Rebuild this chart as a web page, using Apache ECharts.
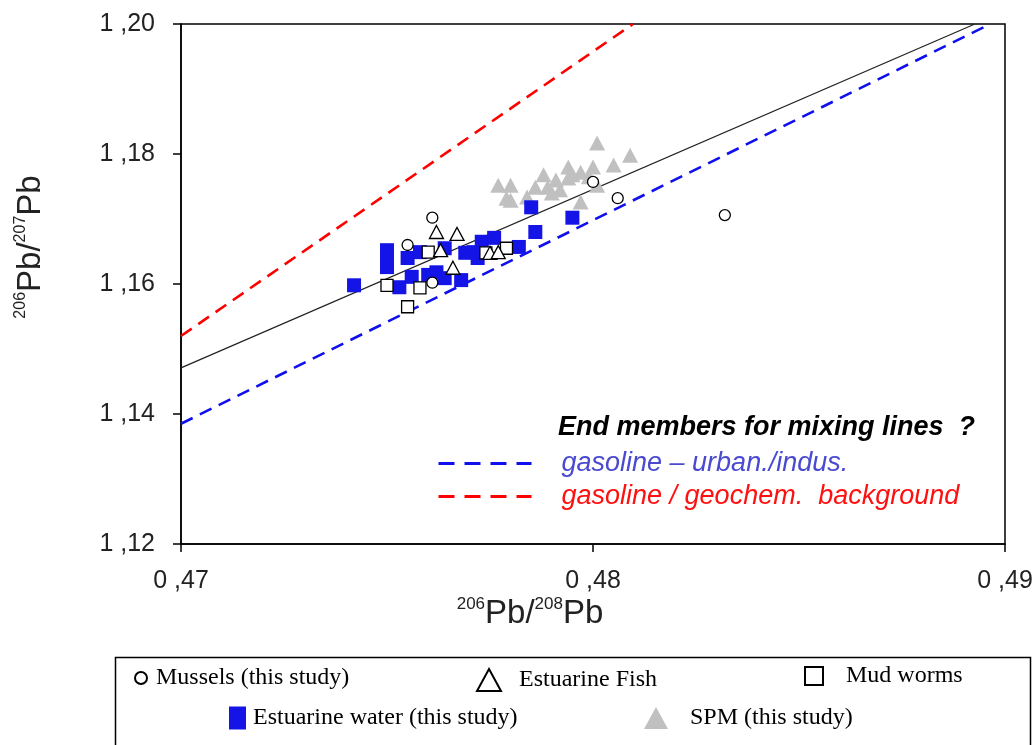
<!DOCTYPE html>
<html>
<head>
<meta charset="utf-8">
<script src="https://cdn.jsdelivr.net/npm/echarts@6/dist/echarts.min.js"></script>
<style>html,body{margin:0;padding:0;background:#fff;}#c{width:1032px;height:745px;}</style>
</head>
<body>
<div id="c"></div>
<script>
// ---- Data ----
const mussels = [[0.4761,1.1702],[0.4755,1.1660],[0.4761,1.1602],[0.4806,1.1732],[0.4832,1.1706],[0.4800,1.1757]];
const estuarineFish = [[0.4762,1.1680],[0.4767,1.1677],[0.4763,1.1652],[0.4766,1.1625],[0.4775,1.1648],[0.4777,1.1649]];
const mudWorms = [[0.4750,1.1598],[0.4755,1.1565],[0.4758,1.1594],[0.4760,1.1649],[0.4779,1.1655],[0.4774,1.1648]];
const estuarineWater = [[0.4742,1.1598],[0.4750,1.1652],[0.4750,1.1626],[0.4750,1.1637],[0.4755,1.1640],[0.4758,1.1649],
  [0.4753,1.1595],[0.4756,1.1611],[0.4760,1.1614],[0.4762,1.1618],[0.4764,1.1655],[0.4764,1.1609],[0.4768,1.1606],
  [0.4769,1.1648],[0.4771,1.1649],[0.4772,1.1640],[0.4773,1.1665],[0.4776,1.1671],[0.4782,1.1657],[0.4786,1.1680],
  [0.4785,1.1718],[0.4795,1.1702]];
const spm = [[0.4801,1.1817],[0.4809,1.1798],[0.4805,1.1783],[0.4800,1.1780],[0.4797,1.1772],[0.4794,1.1780],[0.4794,1.1763],
  [0.4791,1.1760],[0.4788,1.1768],[0.4789,1.1749],[0.4786,1.1749],[0.4792,1.1745],[0.4797,1.1726],[0.4801,1.1752],
  [0.4777,1.1752],[0.4780,1.1752],[0.4779,1.1732],[0.4780,1.1729],[0.4784,1.1734],[0.4790,1.1740],[0.4795,1.1768],[0.4799,1.1765]];
const regressionLine = [[0.47,1.1471],[0.48927,1.20]];
const urbanLine = [[0.47,1.1385],[0.48964,1.20]];
const backgroundLine = [[0.47,1.152],[0.48097,1.20]];
const xTicks = {min:0.47, max:0.49, interval:0.01};
const yTicks = {min:1.12, max:1.20, interval:0.02};
const seriesNames = ['Mussels (this study)','Estuarine Fish','Mud worms','Estuarine water (this study)','SPM (this study)'];
const lineNames = ['gasoline – urban./indus.','gasoline / geochem.  background'];
const endTitle = 'End members for mixing lines  ?';
const xTitle = '{sup|206}{main|Pb/}{sup|208}{main|Pb}';
const yTitle = '{sup|206}{main|Pb/}{sup|207}{main|Pb}';

const fmt = v => v.toFixed(2).replace('.', ' ,');
const chart = echarts.init(document.getElementById('c'), null, {renderer:'canvas'});
const serif = 'Liberation Serif';
const sans = 'Liberation Sans';
const legTxt = (pad) => ({fontFamily: serif, fontSize: 24, lineHeight: 26, color:'#000', padding:[0,0,0,pad]});
const titleRich = (main, sup) => ({
  sup:{fontFamily:sans, fontSize:sup, fill:'#222', color:'#222', verticalAlign:'top', lineHeight:main+4},
  main:{fontFamily:sans, fontSize:main, fill:'#222', color:'#222', lineHeight:main+4}
});

chart.setOption({
  animation:false,
  backgroundColor:'#fff',
  grid:{left:181, top:24, width:824, height:520, show:true, borderColor:'#000', borderWidth:1.5, backgroundColor:'transparent', outerBoundsMode:'none', containLabel:false},
  xAxis:{type:'value', min:xTicks.min, max:xTicks.max, interval:xTicks.interval,
    axisLine:{lineStyle:{color:'#000', width:1.5}}, axisTick:{show:true, length:8, lineStyle:{color:'#000', width:1.5}},
    splitLine:{show:false},
    axisLabel:{formatter:fmt, fontFamily:sans, fontSize:25, color:'#222', margin:25}
  },
  yAxis:{type:'value', min:yTicks.min, max:yTicks.max, interval:yTicks.interval,
    axisLine:{lineStyle:{color:'#000', width:1.5}}, axisTick:{show:true, length:8, lineStyle:{color:'#000', width:1.5}},
    splitLine:{show:false},
    axisLabel:{formatter:fmt, fontFamily:sans, fontSize:25, color:'#222', margin:26}
  },
  legend:[
    {data:[seriesNames[0]], left:134, top:665, padding:0, itemWidth:12, itemHeight:12, textStyle:legTxt(4), selectedMode:false},
    {data:[seriesNames[1]], left:476, top:667, padding:0, itemWidth:24, itemHeight:22, textStyle:legTxt(13), selectedMode:false},
    {data:[seriesNames[2]], left:804, top:663, padding:0, itemWidth:18, itemHeight:18, textStyle:legTxt(18), selectedMode:false},
    {data:[seriesNames[3]], left:229, top:705, padding:0, itemWidth:17, itemHeight:23, textStyle:legTxt(2), selectedMode:false},
    {data:[seriesNames[4]], left:644, top:705, padding:0, itemWidth:24, itemHeight:22, textStyle:legTxt(17), selectedMode:false},
    {data:[{name:lineNames[0], textStyle:{color:'#4a4ad0'}},{name:lineNames[1], textStyle:{color:'#ff1010'}}],
      orient:'vertical', left:437, top:450, padding:0, itemWidth:93, itemHeight:14, itemGap:6, selectedMode:false,
      itemStyle:{opacity:0},
      lineStyle:{width:3, type:[16,10]},
      textStyle:{fontFamily:sans, fontSize:27, lineHeight:24, fontStyle:'italic', padding:[0,0,0,25]}}
  ],
  graphic:[
    {type:'rect', left:113, top:655, shape:{width:915, height:100}, style:{fill:'none', stroke:'#000', lineWidth:1.5}, silent:true},
    {type:'text', left:558, top:414, style:{text:endTitle, fontFamily:sans, fontSize:27, fontWeight:'bold', fontStyle:'italic', fill:'#000'}},
    {type:'text', x:530, y:614, style:{text:xTitle, rich:titleRich(33,17), align:'center', verticalAlign:'middle'}},
    {type:'text', x:31, y:247, rotation:Math.PI/2, style:{text:yTitle, rich:titleRich(33,16), align:'center', verticalAlign:'middle'}}
  ],
  series:[
    {name:'regression', type:'line', data:regressionLine, symbol:'none', lineStyle:{color:'#222', width:1.2}, z:1, silent:true},
    {name:lineNames[0], type:'line', data:urbanLine, symbol:'none', itemStyle:{color:'#1010ee'}, lineStyle:{color:'#1010ee', width:2.6, type:[13,8]}, z:1, silent:true},
    {name:lineNames[1], type:'line', data:backgroundLine, symbol:'none', itemStyle:{color:'#ff0000'}, lineStyle:{color:'#ff0000', width:2.6, type:[13,8]}, z:1, silent:true},
    {name:seriesNames[4], type:'scatter', data:spm, symbol:'triangle', symbolSize:[16,15], itemStyle:{color:'#c0c0c0', opacity:1}, z:2},
    {name:seriesNames[3], type:'scatter', data:estuarineWater, symbol:'rect', symbolSize:14, itemStyle:{color:'#1414e6', opacity:1}, z:3},
    {name:seriesNames[2], type:'scatter', data:mudWorms, symbol:'rect', symbolSize:12, itemStyle:{color:'#fff', borderColor:'#000', borderWidth:1.3, opacity:1}, z:4},
    {name:seriesNames[1], type:'scatter', data:estuarineFish, symbol:'triangle', symbolSize:[14,13], itemStyle:{color:'#fff', borderColor:'#000', borderWidth:1.3, opacity:1}, z:4},
    {name:seriesNames[0], type:'scatter', data:mussels, symbol:'circle', symbolSize:11, itemStyle:{color:'#fff', borderColor:'#000', borderWidth:1.3, opacity:1}, z:5}
  ]
});
</script>
</body>
</html>
